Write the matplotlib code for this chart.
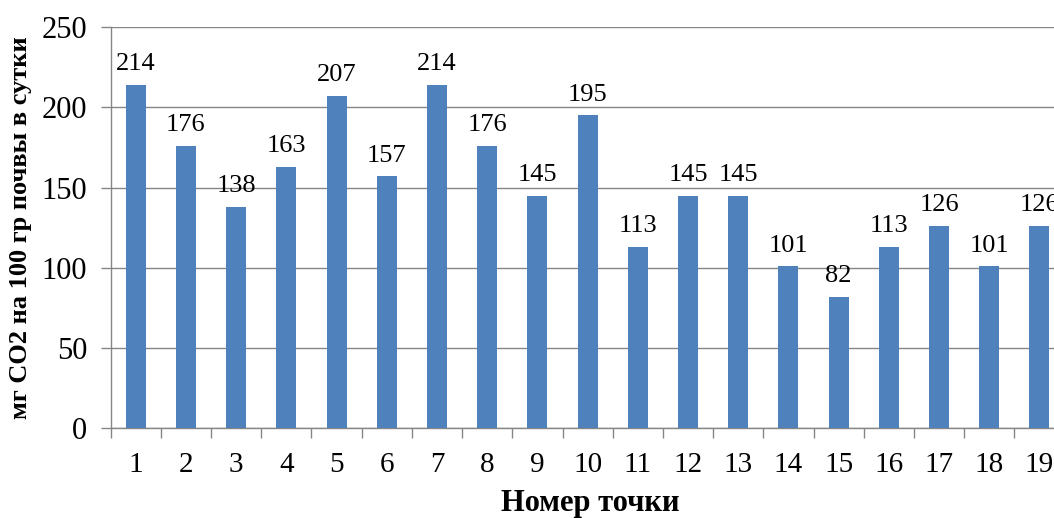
import numpy as np
import matplotlib.pyplot as plt

# номера точек и дыхание почвы
points = np.arange(1, 20)
co2 = [214, 176, 138, 163, 207, 157, 214, 176, 145, 195,
       113, 145, 145, 101, 82, 113, 126, 101, 126]
yticks = [0, 50, 100, 150, 200, 250]

plt.rcParams['font.family'] = ['Liberation Serif', 'DejaVu Serif']

fig = plt.figure(figsize=(10.54, 5.18), dpi=100)
ax = fig.add_axes([0.105, 0.1728, 0.905, 0.775])

ax.bar(points, co2, width=0.4, color='#4F81BD', zorder=3)

for x, v in zip(points, co2):
    ax.annotate(str(v), (x, v), xytext=(0, 7), textcoords='offset points',
                ha='center', va='bottom', fontsize=19, zorder=4)

ax.set_xlim(0.5, 19.5)
ax.set_ylim(0, 250)
ax.set_yticks(yticks)
ax.grid(axis='y', color='#868686', linewidth=1.0, zorder=0)

# деления между столбцами, подписи по центру
ax.set_xticks(np.arange(0.5, 20.0, 1.0))
ax.set_xticklabels([])
ax.set_xticks(points, minor=True)
ax.set_xticklabels([str(p) for p in points], minor=True, fontsize=21)
ax.tick_params(axis='x', which='major', length=7, color='#868686', width=1)
ax.tick_params(axis='x', which='minor', length=0, pad=17)
ax.tick_params(axis='y', length=7, color='#868686', width=1, labelsize=22, pad=10)

for s in ['top', 'right']:
    ax.spines[s].set_visible(False)
for s in ['left', 'bottom']:
    ax.spines[s].set_color('#868686')
    ax.spines[s].set_linewidth(1)

ax.set_xlabel('Номер точки', fontsize=22, fontweight='bold')
ax.xaxis.set_label_coords(0.503, -0.15)
ax.set_ylabel('мг СО2 на 100 гр почвы в сутки', fontsize=19, fontweight='bold')
ax.yaxis.set_label_coords(-0.082, 0.5)

fig.savefig('out.png', dpi=100)
